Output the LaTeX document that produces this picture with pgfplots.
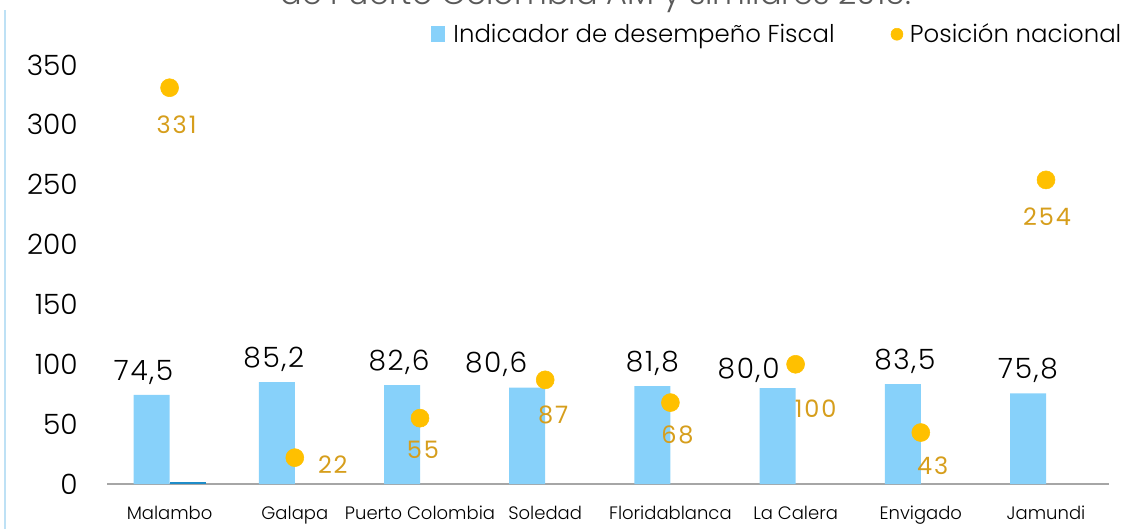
\documentclass[border=0pt]{standalone}
\usepackage{fontspec}
\setmainfont{Poppins}[UprightFont={* Light}]
\newfontfamily\barfont{Poppins}[UprightFont={* Light}, LetterSpace=6]
\newfontfamily\posfont{Poppins}[LetterSpace=8]
\usepackage{pgfplots}
\usepackage{pgfplotstable}
\pgfplotsset{compat=1.18}

\definecolor{barblue}{RGB}{135,209,250}
\definecolor{darkbar}{RGB}{30,140,200}
\definecolor{posdot}{RGB}{255,192,0}
\definecolor{poslab}{RGB}{214,158,28}
\definecolor{axisgray}{RGB}{166,166,166}
\definecolor{titlegray}{RGB}{89,89,89}
\definecolor{framebl}{RGB}{190,225,245}

% Indicador de desempeno fiscal (dx, dy: label offset in px from category centre)
\pgfplotstableread{
x y lab dx dy
0 74.5 74,5 -26 0
1 85.2 85,2 -21 0
2 82.6 82,6 -21 0
3 80.6 80,6 -49 0
4 81.8 81,8 -18 0
5 80.0 80,0 -47 5
6 83.5 83,5 -16 0
7 75.8 75,8 -18 0
}\ide

% Posicion nacional (dx, dy: label offset in px)
\pgfplotstableread{
x y dx dy
0 331 7 37
1 22 38 7
2 55 3 32
3 87 8 35
4 68 7 32
5 100 20 44
6 43 12 33
7 254 1 37
}\pos

\begin{document}
\begin{tikzpicture}
\begin{axis}[
  x=93.9pt, y=0.8979pt,
  xmin=-0.5, xmax=7.5, ymin=0, ymax=350,
  axis lines=left,
  axis line style={-},
  y axis line style={draw=none},
  x axis line style={draw=axisgray, line width=1.5pt},
  ytick={0,50,...,350},
  xtick={0,...,7},
  xticklabels={Malambo, Galapa, Puerto Colombia, Soledad, Floridablanca, La Calera, Envigado, Jamundi},
  major tick length=0pt,
  /pgf/number format/assume math mode=true,
  yticklabel style={font=\fontsize{21}{24}\selectfont, anchor=east, inner sep=0pt, xshift=-21.75pt},
  xticklabel style={font=\fontsize{13.5}{16}\selectfont, anchor=base, inner sep=0pt, yshift=-26.25pt},
  legend columns=2,
  legend style={draw=none, at={(1,1)}, anchor=south east, xshift=14.75pt, yshift=11pt,
    font=\fontsize{18.3}{20}\selectfont,
    /tikz/every even column/.append style={column sep=40pt}},
  clip=false,
]
\addplot[ybar, bar width=27pt, bar shift=-13.5pt, fill=barblue, draw=none,
  nodes near coords, point meta=explicit symbolic,
  visualization depends on={\thisrow{dx} \as \bdx},
  visualization depends on={\thisrow{dy} \as \bdy},
  every node near coord/.style={font=\barfont\fontsize{21}{24}\selectfont, text=black, anchor=base, inner sep=0pt,
    xshift={\bdx*0.75pt}, yshift={11pt-\bdy*0.75pt}},
  legend image code/.code={\fill[barblue] (0pt,-5.5pt) rectangle (10.5pt,6pt); \path (14.5pt,0pt);}]
  table[x=x, y=y, meta=lab]{\ide};
\addlegendentry{Indicador de desempeño Fiscal}

\addplot[ybar, bar width=27pt, bar shift=13.5pt, fill=darkbar, draw=none, forget plot]
  coordinates {(0,1.6)};

\addplot[only marks, mark=*, mark size=6.75pt, color=posdot,
  nodes near coords, point meta=explicit symbolic,
  visualization depends on={\thisrow{dx} \as \dx},
  visualization depends on={\thisrow{dy} \as \dy},
  every node near coord/.style={font=\posfont\fontsize{18}{20}\selectfont, text=poslab, anchor=center, inner sep=0pt,
    xshift={\dx*0.75pt}, yshift={-\dy*0.75pt}},
  legend image code/.code={\fill[posdot] (4.5pt,0pt) circle (4.5pt); \path (12pt,0pt);}]
  table[x=x, y=y, meta=y]{\pos};
\addlegendentry{Posición nacional}

\coordinate (O) at (axis cs:-0.5,0);
\node[anchor=base, font=\fontsize{24}{28}\selectfont, text=titlegray, yshift=45pt]
  at (axis cs:3.406,350) {de Puerto Colombia AM y similares 2015.};
\end{axis}
\draw[framebl, line width=1pt] ([xshift=-76.5pt, yshift=-33.75pt]O) -- ([xshift=-76.5pt, yshift=355.5pt]O);
\pgfresetboundingbox
\path[use as bounding box] ([xshift=-80.25pt, yshift=-33.75pt]O) rectangle ([xshift=764.25pt, yshift=363pt]O);
\end{tikzpicture}
\end{document}
